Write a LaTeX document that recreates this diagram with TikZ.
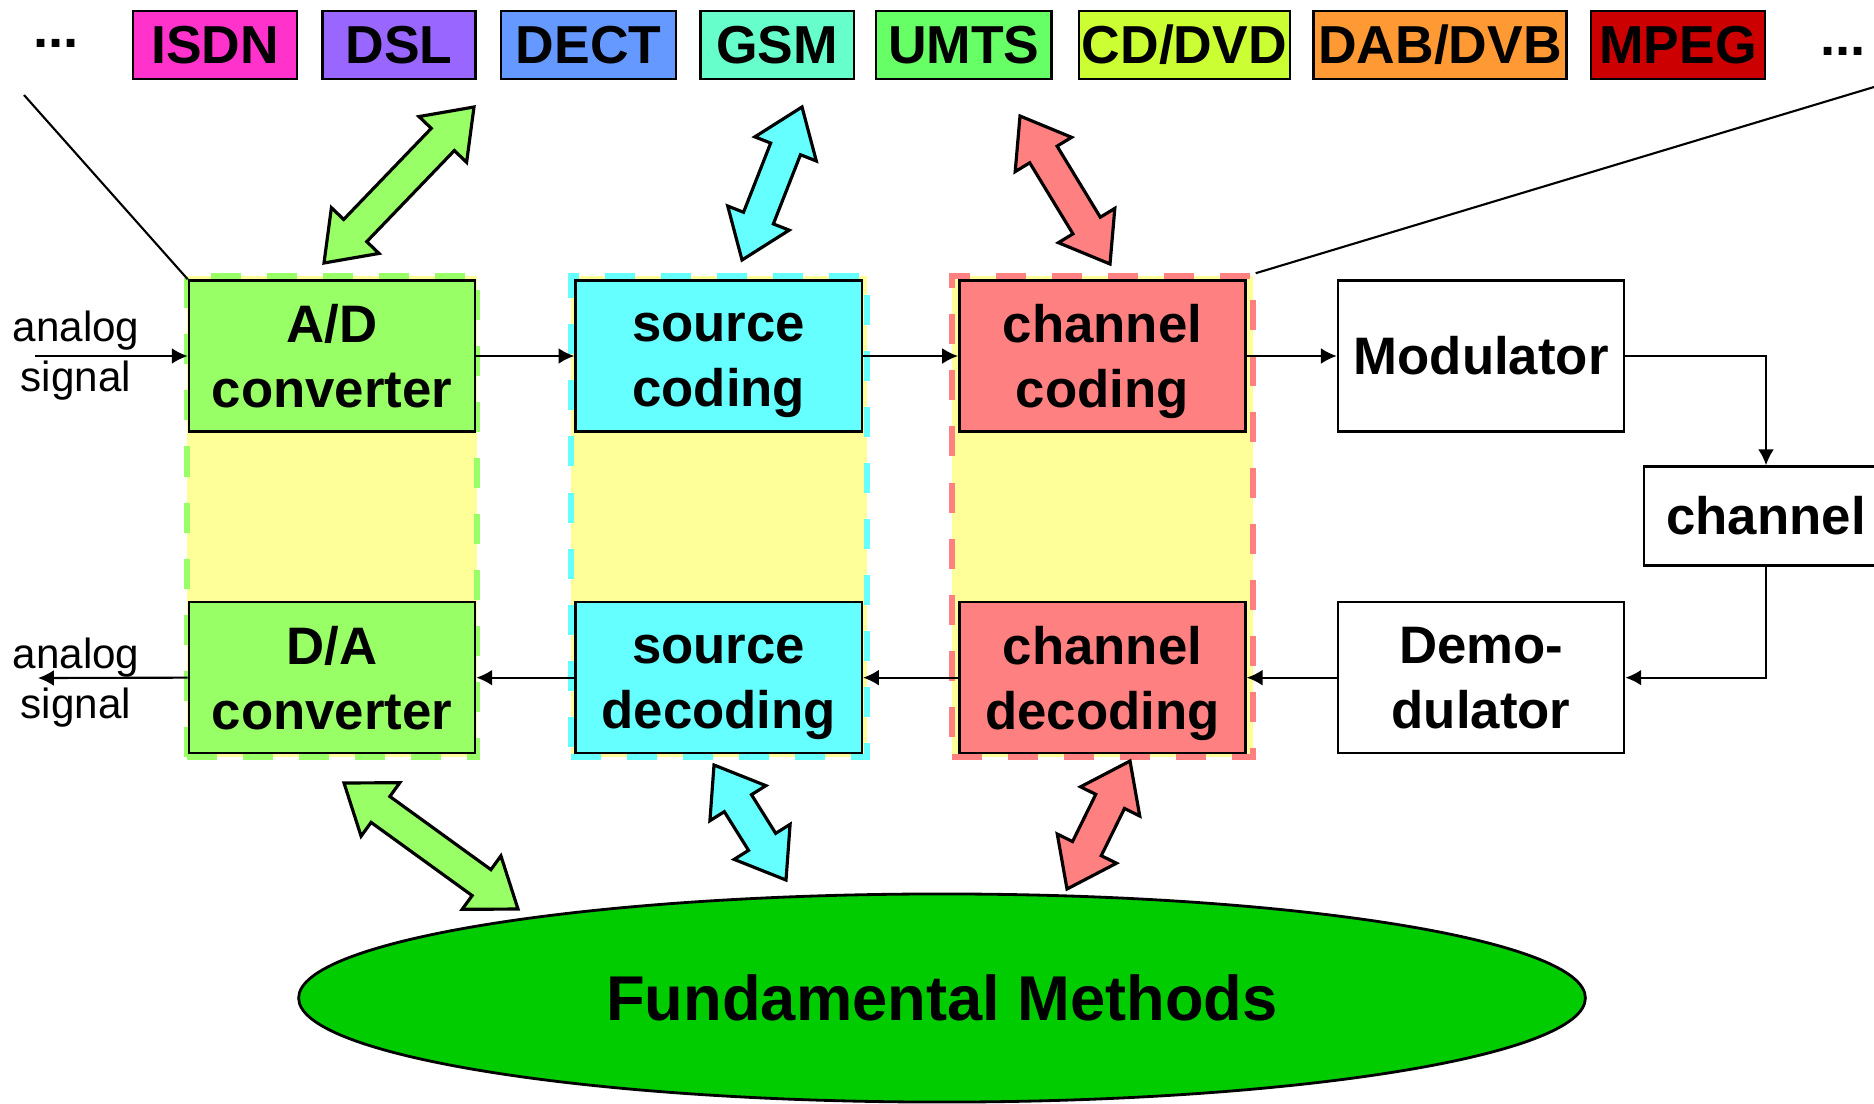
\documentclass[tikz,border=0pt]{standalone}
\usepackage{fontspec}
\setmainfont{Liberation Sans}
\usetikzlibrary{positioning,calc,fit,backgrounds,shapes.geometric,arrows.meta}
\definecolor{IsdnPink}{HTML}{FF33CC}
\definecolor{DslViolet}{HTML}{9966FF}
\definecolor{DectBlue}{HTML}{6699FF}
\definecolor{GsmMint}{HTML}{66FFCC}
\definecolor{UmtsGreen}{HTML}{66FF66}
\definecolor{CdLime}{HTML}{CCFF33}
\definecolor{DabOrange}{HTML}{FF9933}
\definecolor{MpegRed}{HTML}{CC0000}
\definecolor{ConvGreen}{HTML}{99FF66}
\definecolor{SrcCyan}{HTML}{66FFFF}
\definecolor{ChanRed}{HTML}{FF8080}
\definecolor{ZoneYellow}{HTML}{FFFF99}
\definecolor{BaseGreen}{HTML}{00CC00}
\newcommand{\twoline}[2]{\vphantom{A}#1\\\smash{#2}}
\newcommand{\dblarrow}[3]{%
  \draw[bigarrow,fill=#1] (#2)
    -- ($(#2)!0.45cm!(#3)!0.33cm!90:(#3)$)
    -- ($(#2)!0.45cm!(#3)!0.16cm!90:(#3)$)
    -- ($(#3)!0.45cm!(#2)!0.16cm!-90:(#2)$)
    -- ($(#3)!0.45cm!(#2)!0.33cm!-90:(#2)$)
    -- (#3)
    -- ($(#3)!0.45cm!(#2)!0.33cm!90:(#2)$)
    -- ($(#3)!0.45cm!(#2)!0.16cm!90:(#2)$)
    -- ($(#2)!0.45cm!(#3)!0.16cm!-90:(#3)$)
    -- ($(#2)!0.45cm!(#3)!0.33cm!-90:(#3)$)
    -- cycle;}
\begin{document}
\begin{tikzpicture}[x=0.01cm,y=-0.01cm,>={Latex[length=4.5pt,width=4.5pt]},
    tag/.style={draw,line width=0.7pt,minimum height=0.68cm,inner sep=0pt,font=\fontsize{15.2}{18}\selectfont\bfseries},
    block/.style={draw,line width=0.7pt,minimum width=2.86cm,minimum height=1.51cm,inner sep=0pt,align=center,font=\fontsize{15}{18.5}\selectfont\bfseries},
    zone/.style={fill=ZoneYellow,dash pattern=on 0.3cm off 0.26cm,line width=1.7pt,inner ysep=0.03cm},
    flow/.style={->,line width=0.6pt},
    bigarrow/.style={draw=black,line width=0.9pt,line join=miter},
    note/.style={align=center,font=\fontsize{12}{14.2}\selectfont}]
    \useasboundingbox (0,0) rectangle (1874,1103);
    \clip (0,0) rectangle (1874,1103);

    % standards on top
    \node[font=\fontsize{15.5}{18}\selectfont\bfseries] (dotsl) at (56,43) {...};
    \node[tag,fill=IsdnPink,minimum width=1.64cm] (isdn) at (215,45) {ISDN};
    \node[tag,fill=DslViolet,minimum width=1.53cm,right=0.23cm of isdn] (dsl) {DSL};
    \node[tag,fill=DectBlue,minimum width=1.75cm,right=0.23cm of dsl] (dect) {DECT};
    \node[tag,fill=GsmMint,minimum width=1.53cm,right=0.22cm of dect] (gsm) {GSM};
    \node[tag,fill=UmtsGreen,minimum width=1.75cm,right=0.2cm of gsm] (umts) {UMTS};
    \node[tag,fill=CdLime,minimum width=2.11cm,right=0.25cm of umts] (cddvd) {CD/DVD};
    \node[tag,fill=DabOrange,minimum width=2.53cm,right=0.21cm of cddvd] (dabdvb) {DAB/DVB};
    \node[tag,fill=MpegRed,minimum width=1.74cm,right=0.22cm of dabdvb] (mpeg) {MPEG};
    \node[font=\fontsize{15.5}{18}\selectfont\bfseries] (dotsr) at (1843,51) {...};

    % transmitter and receiver chain
    \node[block,fill=ConvGreen] (ad) at (332,356) {\twoline{A/D}{converter}};
    \node[block,fill=SrcCyan,right=0.98cm of ad] (sc) {\twoline{source}{coding}};
    \node[block,fill=ChanRed,right=0.95cm of sc] (cc) {\twoline{channel}{coding}};
    \node[block,right=0.9cm of cc] (mod) {Modulator};
    \node[block,fill=ConvGreen,below=1.68cm of ad] (da) {\twoline{D/A}{converter}};
    \node[block,fill=SrcCyan,below=1.68cm of sc] (sd) {\twoline{source}{decoding}};
    \node[block,fill=ChanRed,below=1.68cm of cc] (cd) {\twoline{channel}{decoding}};
    \node[block,below=1.68cm of mod] (demod) {\twoline{Demo-}{dulator}};
    \node[block,minimum width=2.44cm,minimum height=0.99cm] (chan) at (1766,516) {channel};

    \begin{scope}[on background layer]
      \node[zone,draw=ConvGreen,inner xsep=0.01cm,fit=(ad)(da)] (adzone) {};
      \node[zone,draw=SrcCyan,inner xsep=0.035cm,fit=(sc)(sd)] (sczone) {};
      \node[zone,draw=ChanRed,inner xsep=0.06cm,fit=(cc)(cd)] (cczone) {};
    \end{scope}

    \node[note] (ain) at (76,356) {analog\\signal};
    \node[note] (aout) at (76,683) {analog\\signal};
    \coordinate (inL) at (35,356);
    \coordinate (outL) at (38,678);
    \draw[flow] (inL) -- (ad.west);
    \draw[flow] (ad) -- (sc);
    \draw[flow] (sc) -- (cc);
    \draw[flow] (cc) -- (mod);
    \draw[flow] (mod.east) -| (chan.north);
    \draw[flow] (chan.south) |- (demod.east);
    \draw[flow] (demod) -- (cd);
    \draw[flow] (cd) -- (sd);
    \draw[flow] (sd) -- (da);
    \draw[flow] (da.west) -- (outL);

    % zoom lines
    \coordinate (lineL) at (24,95);
    \coordinate (lineR) at (1874,87);
    \draw[line width=0.6pt] (lineL) -- (ad.north west);
    \draw[line width=0.6pt] (cczone.north east) -- (lineR);

    \node[ellipse,draw,line width=0.8pt,fill=BaseGreen,minimum width=12.86cm,minimum height=2.08cm,
      font=\fontsize{18}{22}\selectfont\bfseries] (base) at (942,998) {Fundamental Methods};

    % block arrows
    \coordinate (gt1) at (474,107); \coordinate (gt2) at (324,263);
    \coordinate (ct1) at (802,107); \coordinate (ct2) at (742,260);
    \coordinate (rt1) at (1020,116); \coordinate (rt2) at (1110,264);
    \coordinate (gb1) at (344,783); \coordinate (gb2) at (518,909);
    \coordinate (cb1) at (714,765); \coordinate (cb2) at (786,880);
    \coordinate (rb1) at (1130,761); \coordinate (rb2) at (1067,889);
    \dblarrow{ConvGreen}{gt1}{gt2}
    \dblarrow{SrcCyan}{ct1}{ct2}
    \dblarrow{ChanRed}{rt1}{rt2}
    \dblarrow{ConvGreen}{gb1}{gb2}
    \dblarrow{SrcCyan}{cb1}{cb2}
    \dblarrow{ChanRed}{rb1}{rb2}
  \end{tikzpicture}
\end{document}
